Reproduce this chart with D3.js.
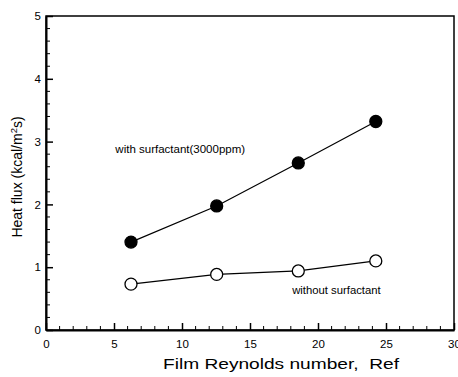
<!DOCTYPE html>
<html>
<head>
<meta charset="utf-8">
<script src="https://cdn.jsdelivr.net/npm/d3@7"></script>
<style>
  body { margin: 0; background: #fff; }
  svg text { font-family: "Liberation Sans", Arial, sans-serif; fill: #000; }
</style>
</head>
<body>
<div id="chart"></div>
<script>
// data
const reynolds = [6.25, 12.55, 18.55, 24.25];
const withSurfactant = [1.40, 1.975, 2.66, 3.32];
const withoutSurfactant = [0.73, 0.885, 0.94, 1.10];
const xTicks = [0, 5, 10, 15, 20, 25, 30];
const yTicks = [0, 1, 2, 3, 4, 5];

const width = 458, height = 377;
const margin = {top: 16, right: 4, bottom: 47, left: 46};
const w = width - margin.left - margin.right;
const h = height - margin.top - margin.bottom;

const svg = d3.select("#chart").append("svg")
  .attr("width", width)
  .attr("height", height);

const g = svg.append("g")
  .attr("transform", "translate(" + margin.left + "," + margin.top + ")");

const x = d3.scaleLinear().domain([0, 30]).range([0, w]);
const y = d3.scaleLinear().domain([0, 5]).range([h, 0]);

// frame
g.append("rect")
  .attr("x", 0).attr("y", 0)
  .attr("width", w).attr("height", h)
  .style("fill", "none")
  .style("stroke", "#000")
  .style("stroke-width", 1.5);

// minor ticks (inside)
g.selectAll(".xminor")
  .data(d3.range(0, 31).filter(d => d % 5 !== 0))
  .enter().append("line")
    .attr("x1", d => x(d)).attr("x2", d => x(d))
    .attr("y1", h).attr("y2", h - 4)
    .style("stroke", "#000").style("stroke-width", 1);

g.selectAll(".yminor")
  .data(d3.range(0, 25).map(d => d * 0.2).filter((d, i) => i % 5 !== 0))
  .enter().append("line")
    .attr("x1", 0).attr("x2", 4)
    .attr("y1", d => y(d)).attr("y2", d => y(d))
    .style("stroke", "#000").style("stroke-width", 1);

// major ticks + labels
const xAxis = g.append("g")
  .attr("transform", "translate(0," + h + ")")
  .call(d3.axisBottom(x).tickValues(xTicks).tickFormat(d3.format("d"))
    .tickSize(-7).tickPadding(10).tickSizeOuter(0));
xAxis.select(".domain").style("stroke-width", 2);

const yAxis = g.append("g")
  .call(d3.axisLeft(y).tickValues(yTicks).tickFormat(d3.format("d"))
    .tickSize(-7).tickPadding(5).tickSizeOuter(0));
yAxis.select(".domain").style("stroke-width", 2);

[xAxis, yAxis].forEach(a => {
  a.selectAll("line").style("stroke-width", 1.5);
  a.selectAll("text")
    .style("font-size", "11.5px")
    .style("font-family", "Liberation Sans, Arial, sans-serif");
});

// lines and markers
const line = d3.line().x(d => x(d[0])).y(d => y(d[1]));
const series = [
  {vals: withSurfactant, fill: "#000"},
  {vals: withoutSurfactant, fill: "#fff"}
];

series.forEach(s => {
  const pts = reynolds.map((r, i) => [r, s.vals[i]]);
  g.append("path")
    .datum(pts)
    .attr("d", line)
    .style("fill", "none")
    .style("stroke", "#000")
    .style("stroke-width", 1.2);
  g.selectAll(null)
    .data(pts)
    .enter().append("circle")
      .attr("cx", d => x(d[0]))
      .attr("cy", d => y(d[1]))
      .attr("r", 6)
      .style("fill", s.fill)
      .style("stroke", "#000")
      .style("stroke-width", 1.3);
});

// annotations
g.append("text")
  .attr("x", x(5.1)).attr("y", y(2.82))
  .style("font-size", "11.5px")
  .text("with surfactant(3000ppm)");

g.append("text")
  .attr("x", x(18.1)).attr("y", y(0.57))
  .style("font-size", "11.3px")
  .text("without surfactant");

// axis titles
svg.append("text")
  .attr("x", 281).attr("y", 369)
  .attr("text-anchor", "middle")
  .attr("textLength", 236)
  .attr("lengthAdjust", "spacingAndGlyphs")
  .attr("xml:space", "preserve")
  .style("font-size", "15px")
  .text("Film Reynolds number,  Ref");

const yl = svg.append("text")
  .attr("transform", "translate(22,177) rotate(-90)")
  .attr("text-anchor", "middle")
  .style("font-size", "14px");
yl.append("tspan").text("Heat flux (kcal/m");
yl.append("tspan").attr("dy", -5).style("font-size", "9.5px").text("2");
yl.append("tspan").attr("dy", 5).text("s)");
</script>
</body>
</html>
